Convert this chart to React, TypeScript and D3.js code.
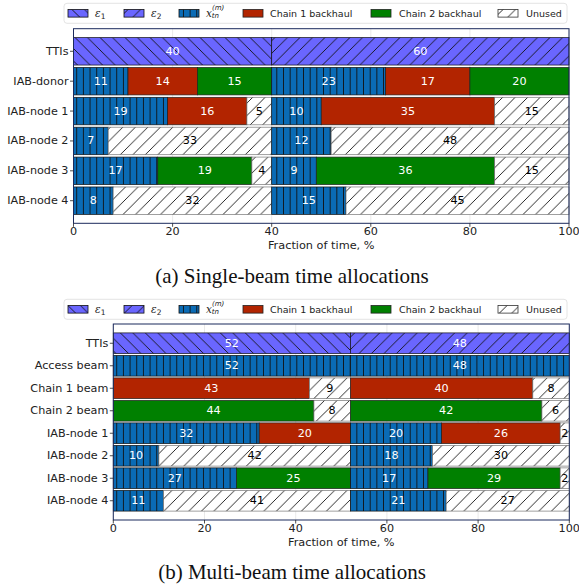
import React from "react";
import * as d3 from "d3";

const singleCategories = ["TTIs", "IAB-donor", "IAB-node 1", "IAB-node 2", "IAB-node 3", "IAB-node 4"];
const singleKinds = [
  ["e1", "e2"],
  ["x", "c1", "c2", "x", "c1", "c2"],
  ["x", "c1", "u", "x", "c1", "u"],
  ["x", "u", "x", "u"],
  ["x", "c2", "u", "x", "c2", "u"],
  ["x", "u", "x", "u"],
];
const singleValues = [
  [40, 60],
  [11, 14, 15, 23, 17, 20],
  [19, 16, 5, 10, 35, 15],
  [7, 33, 12, 48],
  [17, 19, 4, 9, 36, 15],
  [8, 32, 15, 45],
];

const multiCategories = ["TTIs", "Access beam", "Chain 1 beam", "Chain 2 beam", "IAB-node 1", "IAB-node 2", "IAB-node 3", "IAB-node 4"];
const multiKinds = [
  ["e1", "e2"],
  ["x", "x"],
  ["c1", "u", "c1", "u"],
  ["c2", "u", "c2", "u"],
  ["x", "c1", "x", "c1", "u"],
  ["x", "u", "x", "u"],
  ["x", "c2", "x", "c2", "u"],
  ["x", "u", "x", "u"],
];
const multiValues = [
  [52, 48],
  [52, 48],
  [43, 9, 40, 8],
  [44, 8, 42, 6],
  [32, 20, 20, 26, 2],
  [10, 42, 18, 30],
  [27, 25, 17, 29, 2],
  [11, 41, 21, 27],
];

const xTicks = [0, 20, 40, 60, 80, 100];
const legendKinds = ["e1", "e2", "x", "c1", "c2", "u"];
const captions = ["(a) Single-beam time allocations", "(b) Multi-beam time allocations"];

const FILL: Record<string, string> = {
  e1: "url(#hatchE1)",
  e2: "url(#hatchE2)",
  x: "url(#hatchX)",
  c1: "#b22400",
  c2: "#008000",
  u: "url(#hatchU)",
};
const STROKE: Record<string, string> = {
  e1: "#111",
  e2: "#111",
  x: "#111",
  c1: "#222",
  c2: "#222",
  u: "#777",
};
const TEXTC: Record<string, string> = { e1: "#fff", e2: "#fff", x: "#fff", c1: "#fff", c2: "#fff", u: "#000" };

const FONT = "DejaVu Sans, sans-serif";
const SPINE = "#1b2a5c";
const TICKFS = 11.2;

function LegendLabel({ kind, x, y }: { kind: string; x: number; y: number }) {
  if (kind === "e1" || kind === "e2") {
    return (
      <text x={x} y={y} fontSize={10.5} fontFamily={FONT} dominantBaseline="central" fill="#222">
        <tspan fontStyle="italic" fontFamily="DejaVu Serif, serif">ε</tspan>
        <tspan fontSize={7.5} dy={3}>{kind === "e1" ? "1" : "2"}</tspan>
      </text>
    );
  }
  if (kind === "x") {
    return (
      <text x={x} y={y} fontSize={10.5} fontFamily={FONT} dominantBaseline="central" fill="#222">
        <tspan fontStyle="italic" fontFamily="DejaVu Serif, serif">x</tspan>
        <tspan fontSize={7} dy={-5} fontStyle="italic">(m)</tspan>
        <tspan fontSize={7} dx={-12.5} dy={8} fontStyle="italic">tn</tspan>
      </text>
    );
  }
  const label = kind === "c1" ? "Chain 1 backhaul" : kind === "c2" ? "Chain 2 backhaul" : "Unused";
  return (
    <text x={x} y={y} fontSize={9.5} fontFamily={FONT} dominantBaseline="central" fill="#222">
      {label}
    </text>
  );
}

function Legend({ cy }: { cy: number }) {
  const patchX = [68, 124, 179, 243, 371, 498];
  const textX = [95, 151, 206, 270, 399, 526];
  return (
    <g>
      <rect x={64} y={cy - 10} width={503} height={20} rx={3} fill="#fff" stroke="#ddd" strokeWidth={0.8} />
      {legendKinds.map((k, i) => (
        <g key={k}>
          <rect x={patchX[i]} y={cy - 3.8} width={20} height={7.6} fill={FILL[k]} stroke={STROKE[k] === "#777" ? "#333" : STROKE[k]} strokeWidth={0.8} />
          <LegendLabel kind={k} x={textX[i]} y={cy} />
        </g>
      ))}
    </g>
  );
}

function Chart({
  categories, kinds, values, left, right, top, bottom, caption, captionY,
}: {
  categories: string[]; kinds: string[][]; values: number[][];
  left: number; right: number; top: number; bottom: number; caption: string; captionY: number;
}) {
  const n = categories.length;
  const barH = 0.92;
  const margin = ((n - 1) + barH) * 0.05;
  const x = d3.scaleLinear().domain([0, 100]).range([left, right]);
  const y = d3.scaleLinear().domain([-barH / 2 - margin, n - 1 + barH / 2 + margin]).range([top, bottom]);
  const bh = y(barH) - y(0);
  return (
    <g>
      {xTicks.map((t) => (
        <line key={"g" + t} x1={x(t)} x2={x(t)} y1={top} y2={bottom} stroke="#e3e3e3" strokeWidth={0.8} />
      ))}
      {categories.map((c, i) => {
        let acc = 0;
        return (
          <g key={c}>
            {values[i].map((v, j) => {
              const x0 = acc;
              acc += v;
              const k = kinds[i][j];
              return (
                <rect key={j} x={x(x0)} y={y(i) - bh / 2} width={x(x0 + v) - x(x0)} height={bh} fill={FILL[k]} stroke={STROKE[k]} strokeWidth={0.7} />
              );
            })}
          </g>
        );
      })}
      {categories.map((c, i) => {
        let acc = 0;
        return (
          <g key={"t" + c}>
            {values[i].map((v, j) => {
              const x0 = acc;
              acc += v;
              const k = kinds[i][j];
              return (
                <text key={j} x={x(x0 + v / 2)} y={y(i)} fill={TEXTC[k]} fontSize={11.2} fontFamily={FONT} textAnchor="middle" dominantBaseline="central">
                  {v}
                </text>
              );
            })}
            <line x1={left - 3.5} x2={left} y1={y(i)} y2={y(i)} stroke="#222" strokeWidth={0.8} />
            <text x={left - 5} y={y(i)} fontSize={TICKFS} fontFamily={FONT} textAnchor="end" dominantBaseline="central" fill="#222">
              {c}
            </text>
          </g>
        );
      })}
      <rect x={left} y={top} width={right - left} height={bottom - top} fill="none" stroke={SPINE} strokeWidth={1} />
      {xTicks.map((t) => (
        <g key={"t" + t}>
          <line x1={x(t)} x2={x(t)} y1={bottom} y2={bottom + 3.5} stroke="#222" strokeWidth={0.8} />
          <text x={x(t)} y={bottom + 8} fontSize={TICKFS} fontFamily={FONT} textAnchor="middle" dominantBaseline="central" fill="#222">
            {t}
          </text>
        </g>
      ))}
      <text x={(left + right) / 2} y={bottom + 22} fontSize={11.3} fontFamily={FONT} textAnchor="middle" dominantBaseline="central" fill="#222">
        Fraction of time, %
      </text>
      <text x={292} y={captionY} fontSize={21} fontFamily="Liberation Serif, Times New Roman, serif" textAnchor="middle" dominantBaseline="central" fill="#111">
        {caption}
      </text>
    </g>
  );
}

export default function App() {
  const s = 12.5;
  const v = 6.67;
  return (
    <svg width={579} height={584} style={{ position: "absolute", left: 0, top: 0, background: "#fff" }}>
      <defs>
        <pattern id="hatchE1" patternUnits="userSpaceOnUse" width={s} height={s}>
          <rect width={s} height={s} fill="#6a66ff" />
          <path d={`M0,0L${s},${s}M${-s / 2},${s / 2}L${s / 2},${s * 1.5}M${s / 2},${-s / 2}L${s * 1.5},${s / 2}`} stroke="#111" strokeWidth={0.9} />
        </pattern>
        <pattern id="hatchE2" patternUnits="userSpaceOnUse" width={s} height={s}>
          <rect width={s} height={s} fill="#6a66ff" />
          <path d={`M0,${s}L${s},0M${-s / 2},${s / 2}L${s / 2},${-s / 2}M${s / 2},${s * 1.5}L${s * 1.5},${s / 2}`} stroke="#111" strokeWidth={0.9} />
        </pattern>
        <pattern id="hatchU" patternUnits="userSpaceOnUse" width={s} height={s}>
          <rect width={s} height={s} fill="#fff" />
          <path d={`M0,${s}L${s},0M${-s / 2},${s / 2}L${s / 2},${-s / 2}M${s / 2},${s * 1.5}L${s * 1.5},${s / 2}`} stroke="#111" strokeWidth={0.9} />
        </pattern>
        <pattern id="hatchX" patternUnits="userSpaceOnUse" width={v} height={v}>
          <rect width={v} height={v} fill="#0a6bb5" />
          <line x1={v / 2} x2={v / 2} y1={0} y2={v} stroke="#111" strokeWidth={0.9} />
        </pattern>
      </defs>
      <Legend cy={13.3} />
      <Chart categories={singleCategories} kinds={singleKinds} values={singleValues} left={73.5} right={569} top={28.7} bottom={223.3} caption={captions[0]} captionY={276} />
      <Legend cy={309.3} />
      <Chart categories={multiCategories} kinds={multiKinds} values={multiValues} left={113.3} right={569.3} top={324} bottom={520} caption={captions[1]} captionY={572} />
    </svg>
  );
}
